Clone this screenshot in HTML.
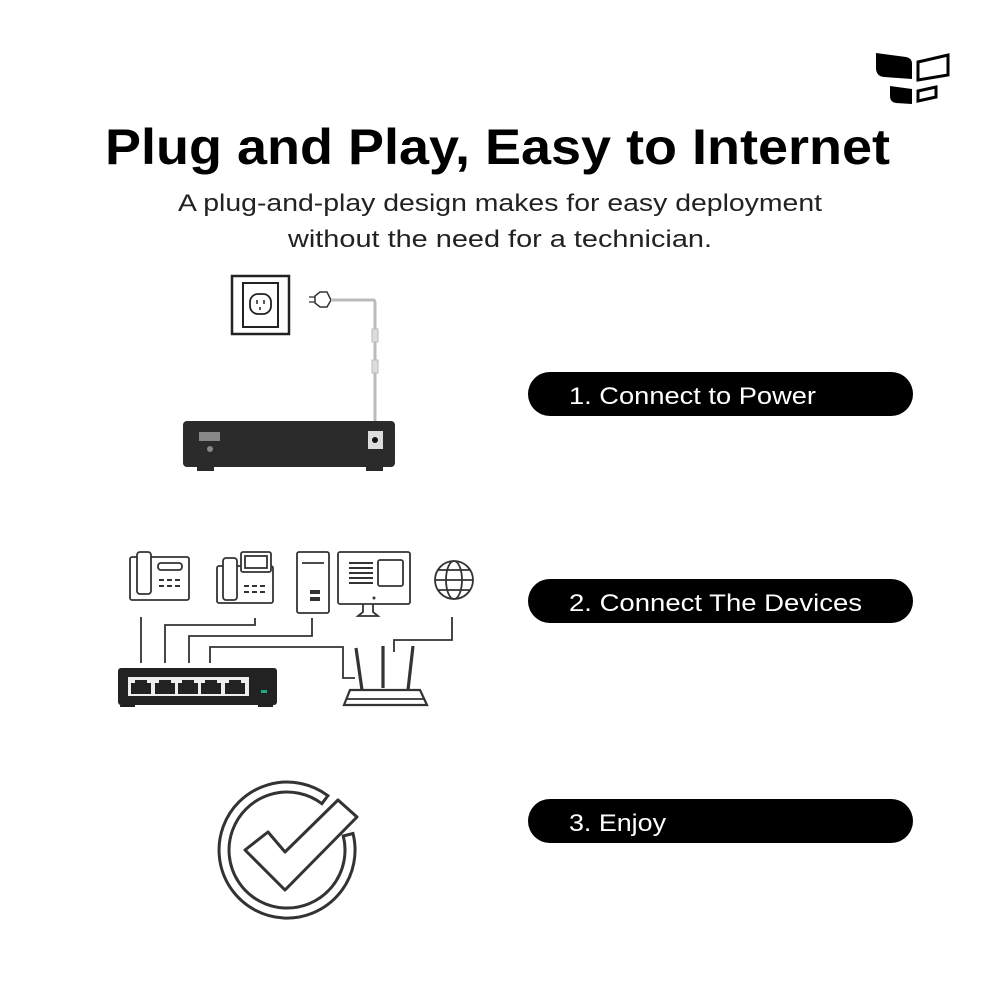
<!DOCTYPE html>
<html><head><meta charset="utf-8"><style>
html,body{margin:0;padding:0;background:#fff;}
svg{display:block;}
text{font-family:"Liberation Sans",sans-serif;}
</style></head><body>
<svg width="1000" height="1000" viewBox="0 0 1000 1000" xmlns="http://www.w3.org/2000/svg">
<rect width="1000" height="1000" fill="#fff"/>
<!-- logo -->
<path d="M876,53 L906,57 Q912,58 912,64 L912,79 L884,77 Q876,76 876,68 Z" fill="#000"/>
<path d="M890,86 L912,89 L912,104 L896,103 Q890,102 890,96 Z" fill="#000"/>
<path d="M918,62 L948,55 L948,75 L918,80 Z" fill="none" stroke="#000" stroke-width="3"/>
<path d="M918,91 L936,87 L936,97 L918,101 Z" fill="none" stroke="#000" stroke-width="3"/>
<!-- title -->
<text x="105" y="164" font-size="50" font-weight="bold" fill="#000" textLength="785" lengthAdjust="spacingAndGlyphs">Plug and Play, Easy to Internet</text>
<text x="178" y="211" font-size="24" fill="#222" textLength="644" lengthAdjust="spacingAndGlyphs">A plug-and-play design makes for easy deployment</text>
<text x="288" y="247" font-size="24" fill="#222" textLength="424" lengthAdjust="spacingAndGlyphs">without the need for a technician.</text>
<!-- pills -->
<rect x="528" y="372" width="385" height="44" rx="22" fill="#000"/>
<text x="569" y="404" font-size="24" fill="#fff" textLength="247" lengthAdjust="spacingAndGlyphs">1. Connect to Power</text>
<rect x="528" y="579" width="385" height="44" rx="22" fill="#000"/>
<text x="569" y="611" font-size="24" fill="#fff" textLength="293" lengthAdjust="spacingAndGlyphs">2. Connect The Devices</text>
<rect x="528" y="799" width="385" height="44" rx="22" fill="#000"/>
<text x="569" y="831" font-size="24" fill="#fff" textLength="97" lengthAdjust="spacingAndGlyphs">3. Enjoy</text>
<!-- power section -->
<rect x="232" y="276" width="57" height="58" fill="none" stroke="#222" stroke-width="2.5"/>
<rect x="243" y="283" width="35" height="44" fill="none" stroke="#222" stroke-width="2"/>
<rect x="250" y="294" width="21" height="20" rx="8" fill="none" stroke="#222" stroke-width="1.8"/>
<path d="M257,300 v4 M264,300 v4 M260,307 v3" stroke="#222" stroke-width="1.5"/>
<path d="M315,296 L320,292 L327,292 L331,300 L327,307 L320,307 L315,303 Z" fill="#fff" stroke="#333" stroke-width="1.5"/>
<line x1="309" y1="297" x2="315" y2="297" stroke="#333" stroke-width="1.3"/>
<line x1="309" y1="302" x2="315" y2="302" stroke="#333" stroke-width="1.3"/>
<path d="M331,300 L374,300 L375,302 L375,422" fill="none" stroke="#bbb" stroke-width="3"/>
<rect x="372" y="329" width="6" height="13" fill="#ddd" stroke="#bbb"/>
<rect x="372" y="360" width="6" height="13" fill="#ddd" stroke="#bbb"/>
<rect x="183" y="421" width="212" height="46" rx="4" fill="#2b2b2b"/>
<rect x="197" y="466" width="17" height="5" fill="#2b2b2b"/>
<rect x="366" y="466" width="17" height="5" fill="#2b2b2b"/>
<rect x="199" y="432" width="21" height="9" fill="#888"/>
<circle cx="210" cy="449" r="3" fill="#888"/>
<rect x="368" y="431" width="15" height="18" fill="#ddd"/>
<circle cx="375" cy="440" r="3" fill="#111"/>
<!-- devices -->
<g fill="none" stroke="#333" stroke-width="1.8">
<rect x="130" y="557" width="59" height="43" rx="2"/>
<rect x="137" y="552" width="14" height="42" rx="3" fill="#fff"/>
<rect x="158" y="563" width="24" height="7" rx="3"/>
<rect x="217" y="566" width="56" height="37" rx="2"/>
<rect x="223" y="558" width="14" height="42" rx="3" fill="#fff"/>
<rect x="241" y="552" width="30" height="20" rx="2" fill="#fff"/>
<rect x="245" y="556" width="22" height="12"/>
<rect x="297" y="552" width="32" height="61" rx="2"/>
<line x1="302" y1="563" x2="324" y2="563"/>
<rect x="338" y="552" width="72" height="52" rx="2"/>
<rect x="378" y="560" width="25" height="26" rx="2"/>
<path d="M363,604 L363,612 L358,616 L378,616 L373,612 L373,604"/>
<circle cx="454" cy="580" r="19"/>
<ellipse cx="454" cy="580" rx="8" ry="19"/>
<line x1="435" y1="580" x2="473" y2="580"/>
<path d="M438,570 L470,570 M438,590 L470,590"/>
<path d="M141,617 L141,663 M255,618 L255,625 L165,625 L165,663 M312,618 L312,636 L189,636 L189,663 M210,663 L210,647 L343,647 L343,678 L355,678 M452,617 L452,640 L394,640 L394,652"/>
<path d="M356,648 L362,690 M383,646 L383,688 M413,646 L408,690" stroke-width="3.2"/>
<path d="M350,690 L420,690 L427,705 L344,705 Z" fill="#fff" stroke-width="2.2"/>
<line x1="347" y1="699" x2="424" y2="699"/>
</g>
<g fill="#333">
<rect x="159" y="579" width="5" height="2"/><rect x="167" y="579" width="5" height="2"/><rect x="175" y="579" width="5" height="2"/>
<rect x="159" y="585" width="5" height="2"/><rect x="167" y="585" width="5" height="2"/><rect x="175" y="585" width="5" height="2"/>
<rect x="244" y="585" width="5" height="2"/><rect x="252" y="585" width="5" height="2"/><rect x="260" y="585" width="5" height="2"/>
<rect x="244" y="591" width="5" height="2"/><rect x="252" y="591" width="5" height="2"/><rect x="260" y="591" width="5" height="2"/>
<rect x="349" y="562" width="24" height="2"/><rect x="349" y="567" width="24" height="2"/><rect x="349" y="572" width="24" height="2"/><rect x="349" y="577" width="24" height="2"/><rect x="349" y="582" width="24" height="2"/>
<circle cx="374" cy="598" r="1.5"/>
<rect x="310" y="590" width="10" height="4"/><rect x="310" y="597" width="10" height="4"/>
</g>
<rect x="118" y="668" width="159" height="37" rx="3" fill="#222"/>
<rect x="120" y="705" width="15" height="2" fill="#222"/><rect x="258" y="705" width="15" height="2" fill="#222"/>
<rect x="128" y="677" width="121" height="19" fill="#eee"/>
<g fill="#222">
<path d="M131,683 h4 v-3 h12 v3 h4 v11 h-20 Z"/>
<path d="M155,683 h4 v-3 h12 v3 h4 v11 h-20 Z"/>
<path d="M178,683 h4 v-3 h12 v3 h4 v11 h-20 Z"/>
<path d="M201,683 h4 v-3 h12 v3 h4 v11 h-20 Z"/>
<path d="M225,683 h4 v-3 h12 v3 h4 v11 h-20 Z"/>
</g>
<rect x="261" y="690" width="6" height="3" fill="#2a8"/>
<!-- check -->
<path d="M353,833.5 A68,68 0 1 1 327.9,795.7 L321.9,803.7 A58,58 0 1 0 343.3,836 Z" fill="none" stroke="#333" stroke-width="3"/>
<path d="M245,850 L268,832 L285,852 L338,800 L357,817 L285,890 Z" fill="none" stroke="#333" stroke-width="3" stroke-linejoin="round"/>
</svg>
</body></html>
